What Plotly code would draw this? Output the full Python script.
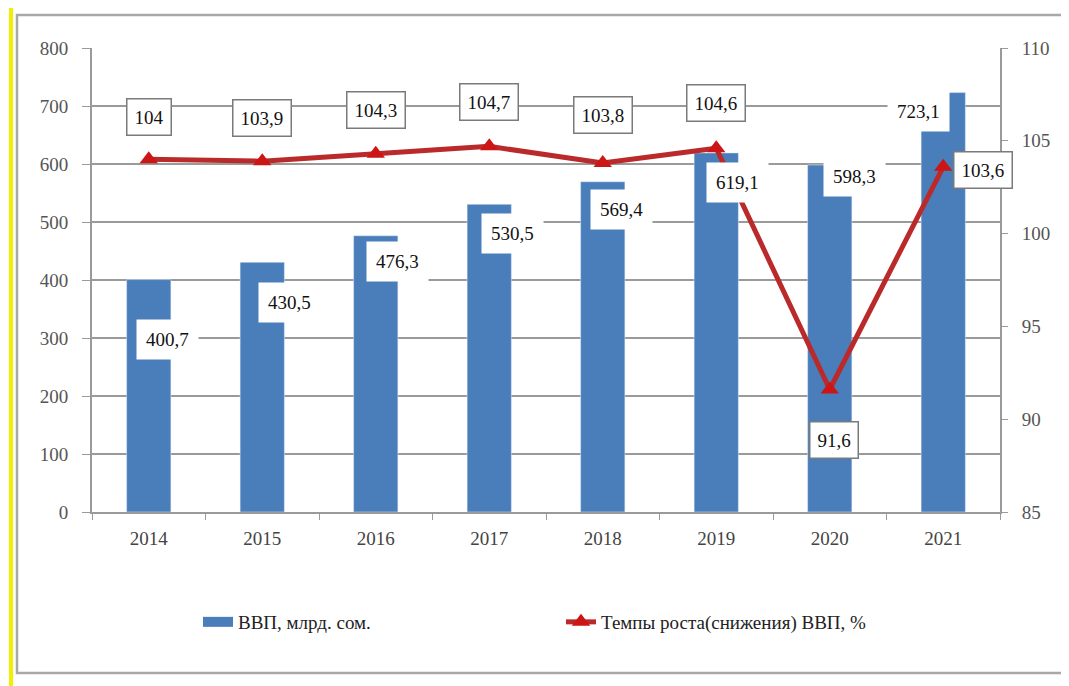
import plotly.graph_objects as go

years = ["2014", "2015", "2016", "2017", "2018", "2019", "2020", "2021"]
gdp = [400.7, 430.5, 476.3, 530.5, 569.4, 619.1, 598.3, 723.1]
growth = [104.0, 103.9, 104.3, 104.7, 103.8, 104.6, 91.6, 103.6]
gdp_text = ["400,7", "430,5", "476,3", "530,5", "569,4", "619,1", "598,3", "723,1"]
growth_text = ["104", "103,9", "104,3", "104,7", "103,8", "104,6", "91,6", "103,6"]

# label offsets (pixels) - styling only
bar_dx = [19, 27, 22, 23, 19, 21, 25, -25]
bar_dy = [-60, -40, -26, -29, -28, -30, -12, -19]
line_dx = [0, 0, 0, 0, 0, 0, 4, 40]
line_dy = [42, 43, 44, 44, 48, 45, -50, -3]

FONT = "Liberation Serif"
BAR_C = "#4a7ebb"
LINE_C = "#bb2a2a"
GRID_C = "#9a9a9a"

fig = go.Figure()
fig.add_trace(go.Bar(
    x=years, y=gdp, name="ВВП, млрд. сом.", marker_color=BAR_C,
    width=0.39, yaxis="y", showlegend=False,
))
# legend stand-in for the bar series (wide swatch like the reference)
fig.add_trace(go.Scatter(
    x=[None], y=[None], name="ВВП, млрд. сом.", mode="lines",
    line=dict(color=BAR_C, width=13), yaxis="y",
))
fig.add_trace(go.Scatter(
    x=years, y=growth, name="Темпы роста(снижения) ВВП, %", yaxis="y2",
    mode="lines+markers",
    line=dict(color=LINE_C, width=5),
    marker=dict(symbol="triangle-up", size=16, color="#cc1515"),
))

ann = []
for i in range(len(years)):
    ann.append(dict(
        x=i, y=gdp[i], xref="x", yref="y", text=gdp_text[i], showarrow=False,
        xshift=bar_dx[i], yshift=bar_dy[i], bgcolor="white", borderpad=9,
        font=dict(family=FONT, size=19, color="#111"),
    ))
    ann.append(dict(
        x=i, y=growth[i], xref="x", yref="y2", text=growth_text[i], showarrow=False,
        xshift=line_dx[i], yshift=line_dy[i], bgcolor="white", borderpad=7,
        bordercolor="#7a7a7a", borderwidth=1.5,
        font=dict(family=FONT, size=19, color="#111"),
    ))

pw, ph = 908, 464
def px(v):
    return (v - 92) / pw
def py(v):
    return (512 - v) / ph

shapes = [
    dict(type="rect", xref="paper", yref="paper", x0=px(17), x1=px(1066), y0=py(673), y1=py(15),
         line=dict(color="#a8a8a8", width=2.5), layer="below"),
    dict(type="line", xref="paper", yref="paper", x0=px(11), x1=px(11), y0=py(686), y1=py(8),
         line=dict(color="#f2ee00", width=4)),
]

fig.update_layout(
    width=1061, height=678,
    margin=dict(l=84, r=69, t=40, b=174),
    paper_bgcolor="white", plot_bgcolor="white",
    font=dict(family=FONT, size=15, color="#333"),
    showlegend=True,
    legend=dict(
        orientation="h", x=px(198), xanchor="left", y=py(622), yanchor="middle",
        entrywidth=318, entrywidthmode="pixels",
        font=dict(family=FONT, size=19, color="#222"),
    ),
    xaxis=dict(
        type="category", range=[-0.5, 7.5], showgrid=False, showline=True,
        linecolor=GRID_C, linewidth=2,
        ticks="outside", tickson="boundaries", ticklen=6, tickcolor=GRID_C,
        tickfont=dict(family=FONT, size=19, color="#444"), tickangle=0,
        ticklabelstandoff=8,
    ),
    yaxis=dict(
        range=[0, 800], dtick=100, showgrid=True, gridcolor=GRID_C, gridwidth=2,
        showline=True, linecolor=GRID_C, linewidth=2, ticks="outside", ticklen=8,
        tickcolor=GRID_C, zeroline=False,
        tickfont=dict(family=FONT, size=19, color="#555"), ticklabelstandoff=10,
    ),
    yaxis2=dict(
        range=[85, 110], dtick=5, overlaying="y", side="right", showgrid=False,
        showline=True, linecolor=GRID_C, linewidth=2, ticks="outside", ticklen=6,
        tickcolor=GRID_C, zeroline=False,
        tickfont=dict(family=FONT, size=19, color="#555"), ticklabelstandoff=10,
    ),
    annotations=ann,
    shapes=shapes,
)

fig.write_html("out.html")
